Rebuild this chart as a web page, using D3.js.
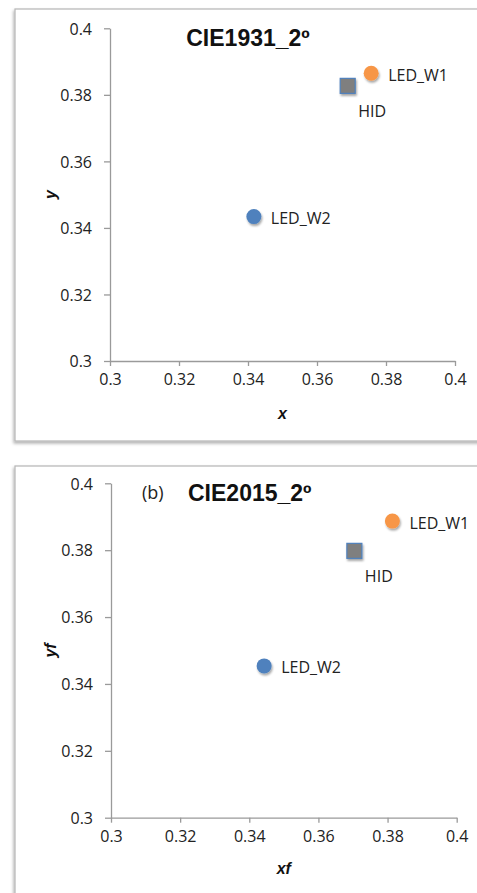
<!DOCTYPE html>
<html>
<head>
<meta charset="utf-8">
<script src="https://cdn.jsdelivr.net/npm/d3@7"></script>
<style>
  html, body { margin: 0; padding: 0; background: #fff; }
  svg { display: block; }
</style>
</head>
<body>
<script>
// ---- data ----
const seriesNames = ["LED_W1", "HID", "LED_W2"];
const seriesColors = ["#F79646", "#7F7F7F", "#4F81BD"];
const seriesShapes = ["circle", "square", "circle"];
const cie1931X = [0.3757, 0.3689, 0.3417];
const cie1931Y = [0.3865, 0.3827, 0.3434];
const cie2015X = [0.3814, 0.3704, 0.3443];
const cie2015Y = [0.3887, 0.3798, 0.3454];
const tickValues = [0.3, 0.32, 0.34, 0.36, 0.38, 0.4];
const tickLabels = ["0.3", "0.32", "0.34", "0.36", "0.38", "0.4"];
const panelTitles = ["CIE1931_2º", "CIE2015_2º"];
const panelTags = ["", "(b)"];
const xTitles = ["x", "xf"];
const yTitles = ["y", "yf"];

// ---- layout ----
const W = 477, H = 893;
const svg = d3.select("body").append("svg").attr("width", W).attr("height", H);

const defs = svg.append("defs");
const sh = defs.append("filter").attr("id", "msh").attr("x", "-50%").attr("y", "-50%").attr("width", "200%").attr("height", "200%");
sh.append("feDropShadow").attr("dx", 1).attr("dy", 2).attr("stdDeviation", 1.3).attr("flood-color", "#000").attr("flood-opacity", 0.35);
const bsh = defs.append("filter").attr("id", "bsh").attr("x", "-5%").attr("y", "-5%").attr("width", "110%").attr("height", "110%");
bsh.append("feDropShadow").attr("dx", -1).attr("dy", 2).attr("stdDeviation", 1.5).attr("flood-color", "#000").attr("flood-opacity", 0.3);

const panels = [
  { box: [15, 9, 480, 432], xr: [110, 455], yr: [361, 28.3], titleX: 248, titleY: 38, xs: cie1931X, ys: cie1931Y, xtY: 413, ytX: 50 },
  { box: [15, 466, 480, 440], xr: [111, 456.7], yr: [817.7, 483.3], titleX: 250, titleY: 493, xs: cie2015X, ys: cie2015Y, xtY: 868, ytX: 50 }
];

panels.forEach((p, pi) => {
  const g = svg.append("g");
  g.append("rect")
    .attr("x", p.box[0]).attr("y", p.box[1]).attr("width", p.box[2]).attr("height", p.box[3])
    .attr("fill", "#fff").attr("stroke", "#b5b5b5").attr("stroke-width", 1.2)
    .attr("filter", "url(#bsh)");

  const x = d3.scaleLinear().domain([0.3, 0.4]).range(p.xr);
  const y = d3.scaleLinear().domain([0.3, 0.4]).range(p.yr);

  const xAxis = d3.axisBottom(x).tickValues(tickValues).tickFormat((d, i) => tickLabels[i]).tickSize(5).tickSizeOuter(0).tickPadding(8);
  const yAxis = d3.axisLeft(y).tickValues(tickValues).tickFormat((d, i) => tickLabels[i]).tickSize(6).tickSizeOuter(0).tickPadding(12);

  const gx = g.append("g").attr("transform", `translate(0,${p.yr[0]})`).call(xAxis);
  const gy = g.append("g").attr("transform", `translate(${p.xr[0]},0)`).call(yAxis);
  [gx, gy].forEach(a => {
    a.selectAll("path, line").attr("stroke", "#9a9a9a").attr("stroke-width", 1.3);
    a.selectAll("text").attr("font-family", "'Open Sans', sans-serif").attr("font-size", 16).attr("fill", "#222");
  });
  gy.selectAll("text").attr("dy", "0.36em");

  // axis titles
  g.append("text").attr("x", (p.xr[0] + p.xr[1]) / 2).attr("y", p.xtY).attr("dy", "0.35em")
    .attr("text-anchor", "middle").attr("font-family", "'Liberation Sans', Arial, sans-serif")
    .attr("font-weight", "bold").attr("font-style", "italic").attr("font-size", 16).attr("fill", "#111")
    .text(xTitles[pi]);
  g.append("text").attr("transform", `translate(${p.ytX},${(p.yr[0] + p.yr[1]) / 2}) rotate(-90)`).attr("dy", "0.35em")
    .attr("text-anchor", "middle").attr("font-family", "'Liberation Sans', Arial, sans-serif")
    .attr("font-weight", "bold").attr("font-style", "italic").attr("font-size", 16).attr("fill", "#111")
    .text(yTitles[pi]);

  // title
  if (panelTags[pi]) {
    g.append("text").attr("x", 142).attr("y", p.titleY).attr("dy", "0.35em")
      .attr("font-family", "'Open Sans', sans-serif").attr("font-size", 18).attr("fill", "#222")
      .text(panelTags[pi]);
    g.append("text").attr("x", 188).attr("y", p.titleY).attr("dy", "0.35em")
      .attr("font-family", "'Liberation Sans', Arial, sans-serif").attr("font-weight", "bold").attr("font-size", 23).attr("fill", "#111")
      .text(panelTitles[pi]);
  } else {
    g.append("text").attr("x", p.titleX).attr("y", p.titleY).attr("dy", "0.35em").attr("text-anchor", "middle")
      .attr("font-family", "'Liberation Sans', Arial, sans-serif").attr("font-weight", "bold").attr("font-size", 23).attr("fill", "#111")
      .text(panelTitles[pi]);
  }

  // points
  seriesNames.forEach((name, i) => {
    const cx = x(p.xs[i]), cy = y(p.ys[i]);
    if (seriesShapes[i] === "circle") {
      g.append("circle").attr("cx", cx).attr("cy", cy).attr("r", 7.5)
        .attr("fill", seriesColors[i]).attr("filter", "url(#msh)");
    } else {
      g.append("rect").attr("x", cx - 7.5).attr("y", cy - 7.5).attr("width", 15).attr("height", 15)
        .attr("fill", seriesColors[i]).attr("stroke", "#4F81BD").attr("stroke-width", 1.2).attr("filter", "url(#msh)");
    }
    const lbl = g.append("text").attr("font-family", "'Open Sans', sans-serif").attr("font-size", 16).attr("fill", "#222")
      .attr("dy", "0.35em").text(name);
    if (seriesShapes[i] === "square") {
      lbl.attr("x", cx + 10.5).attr("y", cy + 26);
    } else {
      lbl.attr("x", cx + 17).attr("y", cy + 2);
    }
  });
});
</script>
</body>
</html>
